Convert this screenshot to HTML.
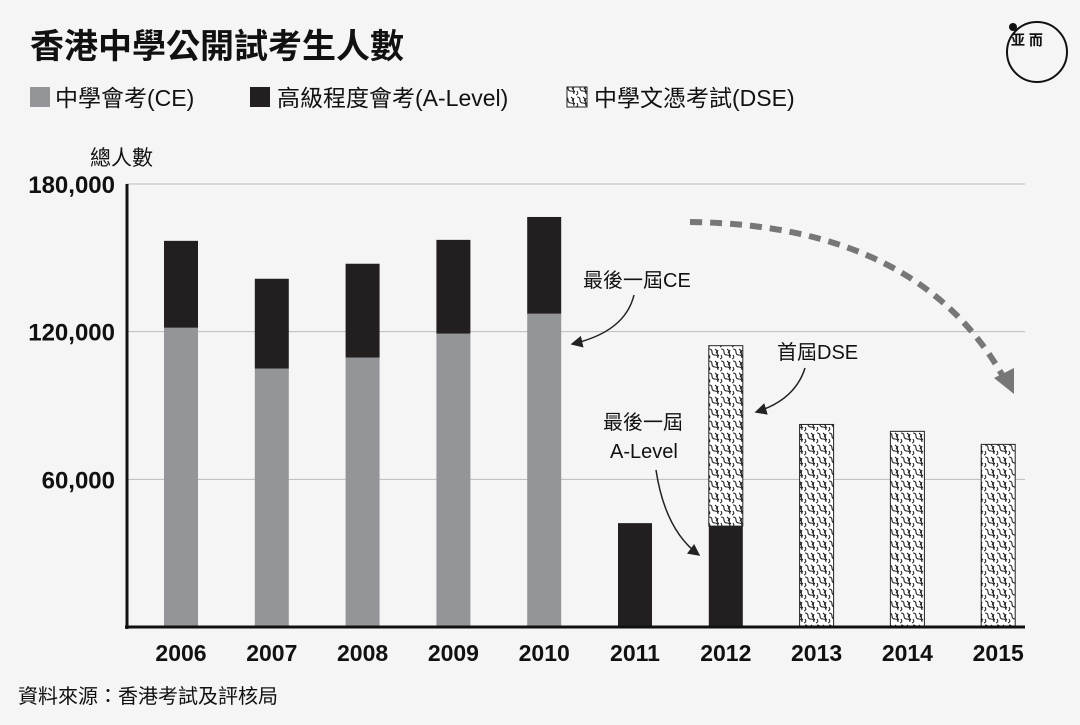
<!DOCTYPE html>
<html><head><meta charset="utf-8"><style>
html,body{margin:0;padding:0;background:#f5f5f5;}
body{width:1080px;height:720px;overflow:hidden;font-family:"Liberation Sans","Noto Sans CJK TC",sans-serif;}
</style></head><body>
<svg width="1080" height="720" xmlns="http://www.w3.org/2000/svg" style="font-family:'Liberation Sans','Noto Sans CJK TC',sans-serif">
<defs>
<pattern id="squig" width="12" height="12" patternUnits="userSpaceOnUse">
<rect width="12" height="12" fill="#fff"/>
<path d="M1 1 q3 0 3 3 t3 3 t3 3 M7 1 q3 2 1 4 M1 7 q2 3 -1 4 M10 2 q-2 4 1 6" stroke="#222" stroke-width="1.1" fill="none"/>
</pattern>
<marker id="ah" markerWidth="8" markerHeight="8" refX="7" refY="4" orient="auto"><path d="M0 0 L8 4 L0 8 z" fill="#222"/></marker>
</defs>
<text x="30" y="58" font-size="34" font-weight="bold" fill="#111">香港中學公開試考生人數</text>
<g>
<circle cx="1037" cy="52" r="30" fill="none" stroke="#111" stroke-width="2"/>
<circle cx="1013" cy="27" r="4" fill="#111"/>
<text x="1011" y="45" font-size="14" font-weight="bold" fill="#111">亚 而</text>
</g>
<g font-size="23" fill="#111">
<g><rect x="30" y="87" width="20" height="20" fill="#939598"/><text x="55" y="106">中學會考(CE)</text></g>
<g><rect x="250" y="87" width="20" height="20" fill="#231f20"/><text x="277" y="106">高級程度會考(A-Level)</text></g>
<g><rect x="567" y="87" width="20" height="20" fill="url(#squig)" stroke="#222"/><text x="594" y="106">中學文憑考試(DSE)</text></g>
</g>
<text x="90" y="165" font-size="21" fill="#111">總人數</text>
<g id="grid"></g>
<g id="bars"></g>
<g id="xlabels"></g>
<line x1="127" y1="184" x2="127" y2="629" stroke="#111" stroke-width="3"/>
<line x1="125" y1="627" x2="1025" y2="627" stroke="#111" stroke-width="3"/>
<g font-size="20" fill="#111">
<text x="583" y="287">最後一屆CE</text>
<path d="M634 295 Q625 332 572 344" stroke="#222" stroke-width="1.5" fill="none" marker-end="url(#ah)"/>
<text x="777" y="359">首屆DSE</text>
<path d="M805 368 Q795 400 756 412" stroke="#222" stroke-width="1.5" fill="none" marker-end="url(#ah)"/>
<text x="603" y="429">最後一屆</text>
<text x="610" y="458">A-Level</text>
<path d="M656 470 Q665 530 699 555" stroke="#222" stroke-width="1.5" fill="none" marker-end="url(#ah)"/>
<path d="M690 222 Q920 225 1005 380" stroke="#777" stroke-width="6" stroke-dasharray="12 8" fill="none"/>
<path d="M994 378 L1014 394 L1014 368 z" fill="#777"/>
</g>
<text x="18" y="703" font-size="20" fill="#111">資料來源：香港考試及評核局</text>
</svg>
<script>
const years=["2006","2007","2008","2009","2010","2011","2012","2013","2014","2015"];
const ceValues=[121600,105000,109500,119200,127300,0,0,0,0,0];
const alValues=[35300,36500,38100,38100,39300,42200,41000,0,0,0];
const dseValues=[0,0,0,0,0,0,73300,82300,79500,74200];
const yTicks=[60000,120000,180000];
const tickLabels=["60,000","120,000","180,000"];
const NS="http://www.w3.org/2000/svg";
const y=v=>627-v*(443/180000);
const x=i=>181+i*90.8;
function mk(t,a,p){const e=document.createElementNS(NS,t);for(const k in a)e.setAttribute(k,a[k]);p.appendChild(e);return e;}
const grid=document.getElementById('grid');
yTicks.forEach((v,i)=>{
 const l=mk('line',{x1:127,x2:1025,y1:y(v),y2:y(v),stroke:'#bbb','stroke-width':1},grid);
 
 
 const t=mk('text',{x:115,y:y(v)+9,'text-anchor':'end','font-size':24,'font-weight':'bold',fill:'#111'},grid);
 t.textContent=tickLabels[i];
 
 
});
const bars=document.getElementById('bars'),xl=document.getElementById('xlabels');
years.forEach((yr,i)=>{
 let base=0;
 [[ceValues,'#939598','ce'],[alValues,'#231f20','alevel'],[dseValues,'url(#squig)','dse']].forEach(([arr,fill,nm])=>{
  const v=arr[i]; if(!v)return;
  const r=mk('rect',{x:x(i)-17,width:34,y:y(base+v),height:y(base)-y(base+v),fill:fill},bars);
  if(nm==='dse'){r.setAttribute('stroke','#222');r.setAttribute('stroke-width','1');}
  
  
  base+=v;
 });
 const t=mk('text',{x:x(i),y:661,'text-anchor':'middle','font-size':23,'font-weight':'bold',fill:'#111'},xl);
 t.textContent=yr;
 
 
});
</script>
</body></html>
